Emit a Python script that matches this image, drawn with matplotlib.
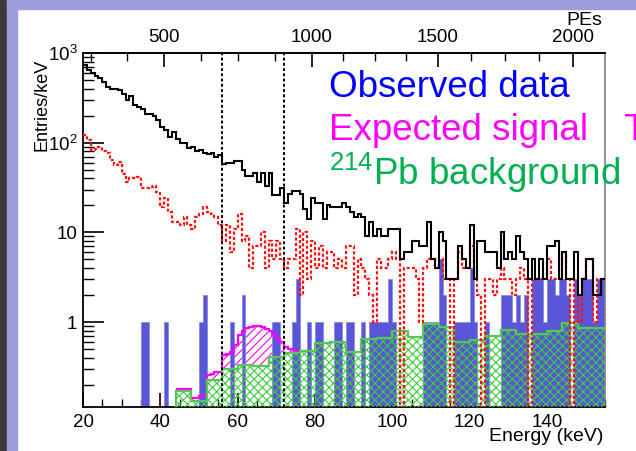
import numpy as np
import matplotlib
matplotlib.use("Agg")
import matplotlib.pyplot as plt
from matplotlib.patches import Rectangle
from matplotlib.ticker import FixedLocator, MultipleLocator, LogLocator, NullFormatter

plt.rcParams['font.family'] = ['Liberation Sans', 'DejaVu Sans']
plt.rcParams['mathtext.fontset'] = 'custom'
plt.rcParams['mathtext.rm'] = 'Liberation Sans'
plt.rcParams['mathtext.default'] = 'regular'
plt.rcParams['hatch.linewidth'] = 0.8

# energy binning, 1 keV
edges = np.arange(20, 156)

# all events per keV (20..154 keV)
black = [730, 650, 600, 560, 520, 480, 420, 400, 400, 390,
         350, 300, 330, 260, 250, 240, 210, 210, 200, 180,
         150, 140, 115, 130, 110, 100, 100, 88, 90, 80,
         82, 76, 74, 76, 70, 72, 58, 60, 59, 62,
         62, 50, 43, 43, 46, 36, 46, 33, 46, 26,
         26, 31, 21, 27, 29, 29, 27, 18, 14, 24,
         21, 21, 14, 20, 19, 19, 19, 21, 19, 17,
         15, 16, 15, 9, 13, 9, 11, 9, 9, 11,
         11, 11, 5, 6, 6, 8, 8, 7, 7, 13,
         5, 4, 10, 8, 3, 3, 3, 7, 5, 4,
         12, 3, 8, 8, 6, 6, 6, 4, 10, 5,
         6, 5, 9, 6, 5, 3, 5, 3, 5, 3,
         7, 7, 8, 3, 6, 3, 3, 6, 2, 3,
         5, 5, 2, 2, 3]

# events after pre-selection (20..154 keV)
red = [121, 107, 83, 85, 89, 80, 77, 64, 56, 61,
       45, 36, 40, 40, 41, 31, 31, 32, 33, 28,
       19, 24, 17, 13, 13, 12, 15, 12, 11, 15,
       16, 19, 17, 16, 15, 12, 8, 12, 6, 11,
       16, 8, 9, 4, 7, 7, 10, 4, 8, 5,
       8, 5, 4, 5, 5, 11, 2, 10, 3, 8,
       4, 7, 4, 6, 6, 4, 5, 4, 7, 7,
       2, 5, 4, 3, 2, 1, 5, 4, 4, 5,
       6, 5, 0, 4, 4, 4, 3, 1, 4, 5,
       5, 4, 5, 3, 3, 0, 3, 6, 4, 4,
       7, 3, 2, 0, 3, 3, 2, 3, 4, 3,
       3, 2, 3, 4, 3, 0, 3, 3, 3, 3,
       5, 3, 3, 3, 6, 3, 0, 3, 1, 3,
       5, 5, 1, 3, 3]

# observed data (20..154 keV)
blue = [0, 0, 0, 0, 0, 0, 0, 0, 0, 0,
        0, 0, 0, 0, 0, 1, 1, 0, 0, 0,
        0, 1, 0, 0, 0, 0, 0, 0, 0, 0,
        1, 2, 0, 0, 0, 0, 0, 0, 1, 0,
        0, 2, 0, 0, 0, 0, 0, 0, 0, 1,
        1, 0, 0, 0, 1, 3, 0, 0, 1, 0,
        1, 1, 0, 0, 0, 1, 1, 0, 1, 1,
        0, 0, 1, 0, 1, 1, 1, 1, 1, 3,
        1, 0, 0, 0, 0, 0, 0, 0, 1, 1,
        1, 1, 5, 2, 0, 0, 1, 1, 1, 1,
        4, 1, 0, 0, 1, 0, 0, 0, 2, 2,
        2, 1, 2, 1, 2, 0, 3, 3, 3, 1,
        3, 3, 2, 3, 3, 2, 0, 3, 2, 3,
        3, 3, 1, 3, 3]

# 214Pb background, 4 keV bins (20..156 keV)
bkg_edges = np.arange(20, 157, 4)
bkg = [0, 0, 0, 0, 0, 0, 0.171, 0.133, 0.226, 0.30,
       0.33, 0.325, 0.41, 0.45, 0.47, 0.58, 0.60, 0.467, 0.64, 0.67,
       0.79, 0.69, 0.94, 0.89, 0.60, 0.63, 0.70, 0.81, 0.74, 0.74,
       0.80, 0.98, 0.85, 0.85]

# expected signal, 1 keV bins (44..79 keV)
sig_edges = np.arange(44, 81)
sig = [0.007, 0.007, 0.007, 0.007, 0.008, 0.008, 0.017, 0.017, 0.034, 0.04,
       0.054, 0.054, 0.13, 0.14, 0.167, 0.25, 0.39, 0.47, 0.52, 0.55,
       0.585, 0.575, 0.555, 0.515, 0.39, 0.31, 0.24, 0.19, 0.08, 0.05,
       0.04, 0.03, 0.01, 0.005, 0.0, 0.0]

window = [56, 72]

# PE scale calibration points (keV, PEs)
cal_e = [41.0, 79.1, 111.7, 146.6]
cal_pe = [500, 1000, 1500, 2000]

W, H = 636, 451
fig = plt.figure(figsize=(W / 100, H / 100), dpi=100)
fig.patch.set_facecolor('white')
fig.patches.append(Rectangle((0, 0), 7 / W, 1, transform=fig.transFigure,
                             color='#3a3a3a', zorder=0))
fig.patches.append(Rectangle((7 / W, 0), 10 / W, 1, transform=fig.transFigure,
                             color='#9d9ddb', zorder=0))
fig.patches.append(Rectangle((7 / W, 1 - 9 / H), 1, 9 / H, transform=fig.transFigure,
                             color='#9d9ddb', zorder=0))

ax = fig.add_axes([83 / W, 44 / H, 522 / W, 354 / H])
ax.set_yscale('log')
ymin = 0.113
floor = 1e-3

black = np.array(black, float)
red = np.array(red, float)
blue = np.array(blue, float)
bkg = np.array(bkg, float)
sig = np.array(sig, float)

# signal stacked on background
bkg_fine = np.repeat(bkg[6:], 4)[:len(sig)]
tot = bkg_fine + sig
ax.stairs(tot, sig_edges, baseline=bkg_fine, fill=True, facecolor='none',
          edgecolor='#ff00ff', hatch='////', linewidth=0, zorder=1)

# observed data
ax.stairs(np.where(blue > 0, blue, floor), edges, baseline=floor, fill=True,
          facecolor='#5a56d8', edgecolor='#8c89e6', linewidth=0.6, zorder=2)

# background hatch
ax.stairs(np.where(bkg > 0, bkg, floor), bkg_edges, baseline=floor, fill=True,
          facecolor='none', edgecolor='#3ccc3c', hatch='xxxx', linewidth=0, zorder=3)
ax.stairs(tot, sig_edges, baseline=None, color='#ff00ff', lw=1.6, zorder=3.5)
ax.stairs(np.where(bkg > 0, bkg, floor), bkg_edges, baseline=None,
          color='#55c755', lw=1.6, zorder=4)

ax.stairs(np.where(red > 0, red, floor), edges, baseline=None, color='#ff1010',
          lw=1.6, ls=(0, (1.4, 1.0)), zorder=5)
ax.stairs(black, edges, baseline=None, color='black', lw=1.5, zorder=6)

for e in window:
    ax.axvline(e, color='black', lw=1.4, ls=(0, (1.5, 1.2)), zorder=7)

ax.set_xlim(20, 155)
ax.set_ylim(ymin, 1000)

ax.xaxis.set_major_locator(FixedLocator(range(20, 141, 20)))
ax.xaxis.set_minor_locator(MultipleLocator(5))
ax.yaxis.set_major_locator(FixedLocator([1, 10, 100, 1000]))
ax.set_yticklabels(['1', '10', '$10^{2}$', '$10^{3}$'])
ax.yaxis.set_minor_locator(LogLocator(base=10, subs=np.arange(2, 10)))
ax.yaxis.set_minor_formatter(NullFormatter())

ax.tick_params(axis='x', which='major', direction='in', length=10, width=1.2,
               labelsize=13.5, pad=5, top=False)
ax.tick_params(axis='x', which='minor', direction='in', length=6, width=1.0, top=False)
ax.tick_params(axis='y', which='major', direction='in', length=15, width=1.2,
               labelsize=13.5, pad=4, right=False)
ax.tick_params(axis='y', which='minor', direction='in', length=8, width=1.0, right=False)

for side in ['left', 'bottom', 'top']:
    ax.spines[side].set_linewidth(1.3)
ax.spines['right'].set_color('#808080')
ax.spines['right'].set_linewidth(1.2)

ax.set_xlabel('Energy (keV)', loc='right', fontsize=14)
ax.xaxis.set_label_coords(0.996, -0.058)
ax.set_ylabel('Entries/keV', loc='top', fontsize=13)
ax.yaxis.set_label_coords(-0.062, 0.985)

# PE scale on top: piecewise linear through the calibration points,
# extended linearly past the end points
ce = np.array(cal_e)
cp = np.array(cal_pe, float)
lo = cp[0] - (cp[1] - cp[0]) / (ce[1] - ce[0]) * (ce[0] - 0)
hi = cp[-1] + (cp[-1] - cp[-2]) / (ce[-1] - ce[-2]) * (300 - ce[-1])
ce = np.concatenate([[0], ce, [300]])
cp = np.concatenate([[lo], cp, [hi]])


def e_to_pe(x):
    return np.interp(x, ce, cp)


def pe_to_e(p):
    return np.interp(p, cp, ce)


top = ax.secondary_xaxis('top', functions=(e_to_pe, pe_to_e))
top.xaxis.set_major_locator(FixedLocator([500, 1000, 1500, 2000]))
top.xaxis.set_minor_locator(MultipleLocator(125))
top.tick_params(which='major', direction='in', length=10, width=1.2,
                labelsize=13.5, pad=5)
top.tick_params(which='minor', direction='in', length=6, width=1.0)
top.spines['top'].set_linewidth(1.3)
fig.text(602 / W, 1 - 25 / H, 'PEs', ha='right', va='baseline', fontsize=14)

fig.text(329 / W, 1 - 97 / H, 'Observed data', color='#0000ff', fontsize=26.5,
         va='baseline')
fig.text(329 / W, 1 - 140 / H, 'Expected signal', color='#ff00ff', fontsize=26.5,
         va='baseline')
fig.text(623 / W, 1 - 140 / H, 'T', color='#ff00ff', fontsize=26.5, va='baseline')
fig.text(329 / W, 1 - 185 / H, '$^{214}$Pb background', color='#00b050',
         fontsize=26.5, va='baseline')

fig.savefig('out.png', dpi=100)
